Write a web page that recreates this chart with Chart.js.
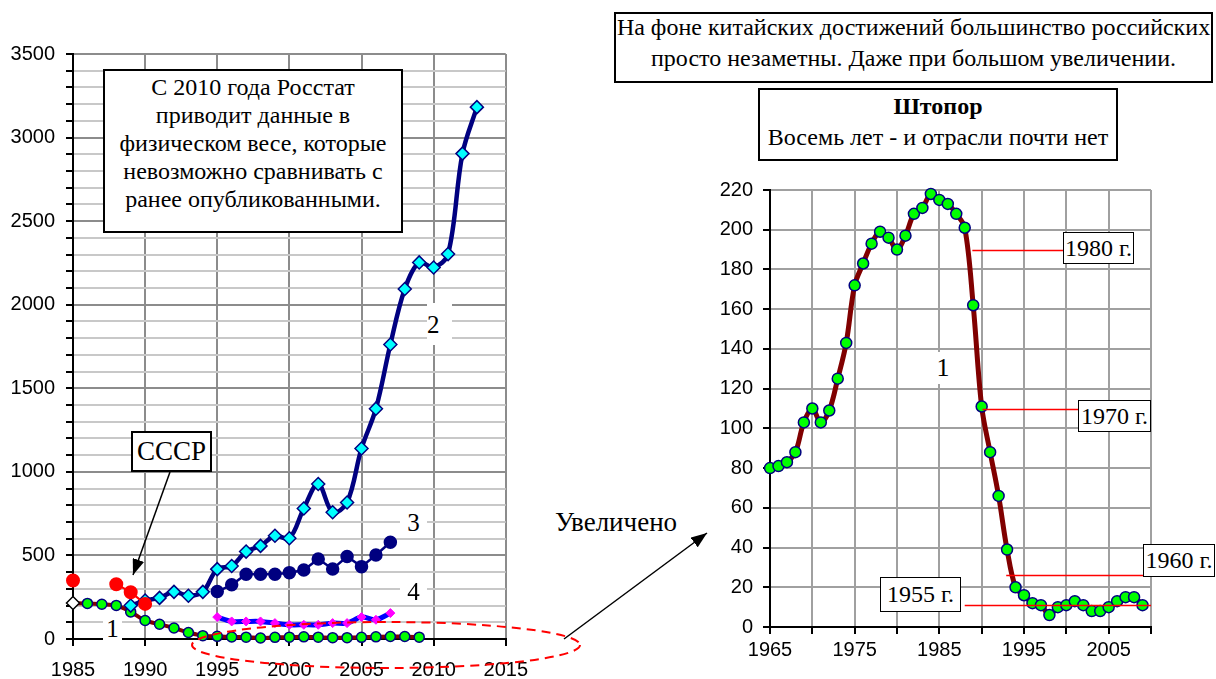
<!DOCTYPE html>
<html>
<head>
<meta charset="utf-8">
<script src="https://cdn.jsdelivr.net/npm/chart.js"></script>
<style>
html, body { margin: 0; padding: 0; background: #fff; }
body { width: 1216px; height: 679px; position: relative; overflow: hidden;
       font-family: "Liberation Serif", "Times New Roman", serif; color: #000; }
.wrap { position: absolute; }
.box { position: absolute; background: #fff; border: 2px solid #000; box-sizing: border-box;
       text-align: center; white-space: nowrap; }
.yr { position: absolute; background: #fff; border: 1.5px solid #000; box-sizing: border-box;
      font-size: 24px; display: flex; align-items: center; justify-content: center; }
.num { position: absolute; background: #fff; font-size: 25px; line-height: 1;
       display: flex; align-items: center; justify-content: center; }
svg { position: absolute; left: 0; top: 0; }
</style>
</head>
<body>

<div class="wrap" style="left:0;top:0;width:540px;height:679px"><canvas id="leftChart"></canvas></div>
<div class="wrap" style="left:700px;top:160px;width:516px;height:519px"><canvas id="rightChart"></canvas></div>

<!-- notes on the left chart -->
<div class="box" style="left:103px;top:69px;width:300px;height:164px;font-size:24px;line-height:28px;padding-top:2px">
  С 2010 года Росстат<br>приводит данные в<br>физическом весе, которые<br>невозможно сравнивать с<br>ранее опубликованными.
</div>
<div class="box" style="left:131px;top:431px;width:81px;height:41px;font-size:27px;line-height:37px">СССР</div>
<div class="num" style="left:103px;top:612px;width:19px;height:33px">1</div>
<div class="num" style="left:427px;top:303px;width:25px;height:42px;justify-content:flex-start">2</div>
<div class="num" style="left:400px;top:507px;width:27px;height:31px">3</div>
<div class="num" style="left:400px;top:579px;width:27px;height:25px">4</div>

<div style="position:absolute;left:555px;top:507px;font-size:27px;line-height:30px">Увеличено</div>

<!-- notes on the right chart -->
<div class="box" style="left:614px;top:12px;width:599px;height:71px;font-size:24px;line-height:31px">
  <div style="margin-top:-2px">На фоне китайских достижений большинство российских<br>просто незаметны. Даже при большом увеличении.</div>
</div>
<div class="box" style="left:758px;top:88px;width:360px;height:73px;font-size:24px;line-height:31px;padding-top:1px">
  <b>Штопор</b><br>Восемь лет - и отрасли почти нет
</div>
<div class="num" style="left:932px;top:352px;width:22px;height:32px;font-size:26px">1</div>
<div class="yr" style="left:1063px;top:232px;width:71px;height:32px">1980 г.</div>
<div class="yr" style="left:1078px;top:400px;width:73px;height:32px">1970 г.</div>
<div class="yr" style="left:1143px;top:544px;width:72px;height:33px">1960 г.</div>
<div class="yr" style="left:880px;top:577px;width:81px;height:35px">1955 г.</div>

<svg width="1216" height="679">
  <defs>
    <marker id="head" markerUnits="userSpaceOnUse" markerWidth="16" markerHeight="12"
            refX="16" refY="6" orient="auto">
      <path d="M0,0 L16,6 L0,12 z" fill="#000"/>
    </marker>
  </defs>
  <line x1="170" y1="472" x2="133" y2="575" stroke="#000" stroke-width="1.5" marker-end="url(#head)"/>
  <line x1="564" y1="639" x2="707" y2="533" stroke="#000" stroke-width="1.5" marker-end="url(#head)"/>
  <ellipse cx="386" cy="645" rx="194" ry="23" fill="none" stroke="#ff0000" stroke-width="2" stroke-dasharray="9 6"/>
</svg>

<script>
// ---- data ----
// curve 1 (both panels), 1965..2009
const years1 = [1965, 1966, 1967, 1968, 1969, 1970, 1971, 1972, 1973, 1974,
                1975, 1976, 1977, 1978, 1979, 1980, 1981, 1982, 1983, 1984,
                1985, 1986, 1987, 1988, 1989, 1990, 1991, 1992, 1993, 1994,
                1995, 1996, 1997, 1998, 1999, 2000, 2001, 2002, 2003, 2004,
                2005, 2006, 2007, 2008, 2009];
const vals1 = [80, 81, 83, 88, 103, 110, 103, 109, 125, 143,
               172, 183, 193, 199, 196, 190, 197, 208, 211, 218,
               215, 213, 208, 201, 162, 111, 88, 66, 39, 20,
               16, 12, 11, 6, 10, 11, 13, 11, 8, 8,
               10, 13, 15, 15, 11];

// curve 2, 1989..2013
const years2 = [1989, 1990, 1991, 1992, 1993, 1994, 1995, 1996, 1997, 1998,
                1999, 2000, 2001, 2002, 2003, 2004, 2005, 2006, 2007, 2008,
                2009, 2010, 2011, 2012, 2013];
const vals2 = [200, 230, 246, 282, 259, 282, 418, 437, 523, 557,
               618, 603, 781, 927, 758, 817, 1140, 1378, 1762, 2094,
               2253, 2223, 2303, 2904, 3182];

// curves 3 and 4, 1995..2007
const years34 = [1995, 1996, 1997, 1998, 1999, 2000, 2001, 2002, 2003, 2004, 2005, 2006, 2007];
const vals3 = [284, 324, 388, 388, 388, 397, 413, 479, 419, 493, 433, 503, 579];
const vals4 = [131, 105, 105, 105, 95, 85, 85, 85, 95, 95, 131, 115, 155];

// USSR points
const ussrYears = [1985, 1986, 1987, 1988, 1989, 1990];
const ussrVals = [350, null, null, 328, 280, 210];

// levels of earlier years marked on the right panel
const refLabels = ['1980 г.', '1970 г.', '1960 г.', '1955 г.'];
const refLevels = [190, 110, 26, 11];

const sansFont = "'Liberation Sans', Arial, sans-serif";

function pts(xs, ys) {
    return xs.map((x, i) => ({ x: x, y: ys[i] }));
}

// spans of the red marker lines, in years along the x axis
const refSpans = [[1988.9, 1999.6], [1990.1, 2001.4], [1992.9, 2009.1], [1988.0, 2010]];

const refLinesPlugin = {
    id: 'refLines',
    afterDatasetsDraw(chart) {
        const ctx = chart.ctx, xs = chart.scales.x, ys = chart.scales.y;
        ctx.save();
        ctx.strokeStyle = '#ff0000';
        ctx.lineWidth = 1.5;
        refLevels.forEach((lv, i) => {
            const y = Math.round(ys.getPixelForValue(lv)) + 0.5;
            ctx.beginPath();
            ctx.moveTo(xs.getPixelForValue(refSpans[i][0]), y);
            ctx.lineTo(xs.getPixelForValue(refSpans[i][1]), y);
            ctx.stroke();
        });
        ctx.restore();
    }
};

function initLeft() {
    const s1 = pts(years1, vals1).filter(p => p.x >= 1985);
    new Chart(document.getElementById('leftChart'), {
        type: 'line',
        data: {
            datasets: [
                { label: 'СССР', data: pts(ussrYears, ussrVals), borderColor: '#ff0000', borderWidth: 2,
                  pointRadius: 6, pointBackgroundColor: '#ff0000', pointBorderColor: '#ff0000',
                  spanGaps: false, clip: false },
                { label: '4', data: pts(years34, vals4), borderColor: '#0000ff', borderWidth: 5, tension: 0.3,
                  pointStyle: 'rectRot', pointRadius: 4.5, pointBackgroundColor: '#ff00ff',
                  pointBorderColor: '#ff00ff', pointBorderWidth: 1, clip: false },
                { label: '3', data: pts(years34, vals3), borderColor: '#000080', borderWidth: 2.5, tension: 0,
                  pointRadius: 5.5, pointBackgroundColor: '#000080', pointBorderColor: '#000080', clip: false },
                { label: '2', data: pts(years2, vals2), borderColor: '#000080', borderWidth: 4.5, tension: 0.35,
                  pointStyle: 'rectRot', pointRadius: 6.5, pointBackgroundColor: '#00ffff',
                  pointBorderColor: '#000080', pointBorderWidth: 1.5, clip: false },
                { label: '1', data: s1, borderColor: '#800000', borderWidth: 4, tension: 0.3,
                  pointStyle: c => c.dataIndex === 0 ? 'rectRot' : 'circle',
                  pointRadius: c => c.dataIndex === 0 ? 6.5 : 5,
                  pointBackgroundColor: c => c.dataIndex === 0 ? '#ffffff' : '#00ff00',
                  pointBorderColor: c => c.dataIndex === 0 ? '#000000' : '#000080',
                  pointBorderWidth: 1.5, clip: false }
            ]
        },
        options: {
            responsive: true, maintainAspectRatio: false, animation: false,
            layout: { padding: { top: 54, right: 27, left: 0, bottom: 0 } },
            plugins: { legend: { display: false }, tooltip: { enabled: false } },
            scales: {
                x: {
                    type: 'linear', min: 1985, max: 2015,
                    afterFit: s => { s.height = 40; },
                    ticks: { stepSize: 5, autoSkip: false, maxRotation: 0, color: '#000', padding: 12,
                             font: { family: sansFont, size: 20 }, callback: v => String(v) },
                    grid: { color: c => c.tick && c.tick.value === 1985 ? '#000' : '#8c8c8c',
                            lineWidth: 2, tickColor: '#000', tickLength: 7, tickWidth: 2 },
                    border: { color: '#000', width: 2 }
                },
                y: {
                    min: 0, max: 3500,
                    afterFit: s => { s.width = 73; },
                    ticks: { stepSize: 100, autoSkip: false, color: '#000', padding: 11,
                             font: { family: sansFont, size: 20 },
                             callback: v => v % 500 === 0 ? String(v) : '' },
                    grid: { color: c => c.tick.value === 0 ? '#000' : (c.tick.value % 500 === 0 ? '#8c8c8c' : '#c8c8c8'),
                            lineWidth: 2, tickColor: '#000', tickLength: 7, tickWidth: 2 },
                    border: { color: '#000', width: 2 }
                }
            }
        }
    });
}

function initRight() {
    new Chart(document.getElementById('rightChart'), {
        type: 'line',
        data: {
            datasets: [
                { label: '1', data: pts(years1, vals1), borderColor: '#800000', borderWidth: 5, tension: 0.35,
                  pointRadius: 5.5, pointBackgroundColor: '#00ff00', pointBorderColor: '#000080',
                  pointBorderWidth: 1.5, clip: false }
            ]
        },
        options: {
            responsive: true, maintainAspectRatio: false, animation: false,
            layout: { padding: { top: 30, right: 65, left: 0, bottom: 0 } },
            plugins: { legend: { display: false }, tooltip: { enabled: false } },
            scales: {
                x: {
                    type: 'linear', min: 1965, max: 2010,
                    afterFit: s => { s.height = 52; },
                    ticks: { stepSize: 5, autoSkip: false, maxRotation: 0, color: '#000', padding: 4,
                             font: { family: sansFont, size: 20 },
                             callback: v => (v - 1965) % 10 === 0 ? String(v) : '' },
                    grid: { color: c => c.tick && c.tick.value === 1965 ? '#000' : '#a0a0a0',
                            lineWidth: 2, tickColor: '#000', tickLength: 7, tickWidth: 2 },
                    border: { color: '#000', width: 2 }
                },
                y: {
                    min: 0, max: 220,
                    afterFit: s => { s.width = 70; },
                    ticks: { stepSize: 20, autoSkip: false, color: '#000', padding: 10,
                             font: { family: sansFont, size: 20 }, callback: v => String(v) },
                    grid: { color: c => c.tick.value === 0 ? '#000' : '#a0a0a0',
                            lineWidth: 2, tickColor: '#000', tickLength: 7, tickWidth: 2 },
                    border: { color: '#000', width: 2 }
                }
            }
        },
        plugins: [refLinesPlugin]
    });
}

initLeft();
initRight();
</script>
</body>
</html>
